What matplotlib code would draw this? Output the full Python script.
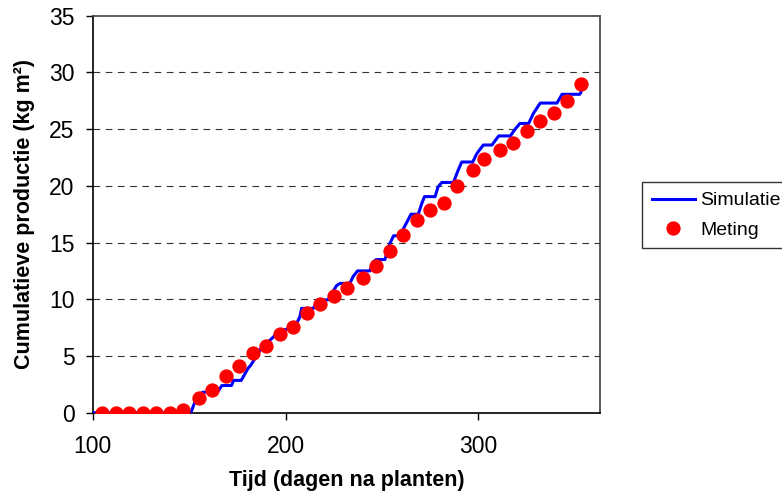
import matplotlib
matplotlib.use('Agg')
import matplotlib.pyplot as plt

BLUE = '#0000FF'
RED = '#FF0000'

# Metingen (dagen na planten, kg m-2)
meting_dag = [105, 112, 119, 126, 133, 140, 147, 155, 162, 169, 176, 183,
              190, 197, 204, 211, 218, 225, 232, 240, 247, 254, 261, 268,
              275, 282, 289, 297, 303, 311, 318, 325, 332, 339, 346, 353]
meting = [0, 0, 0, 0, 0, 0, 0.25, 1.3, 2.0, 3.25, 4.15, 5.3,
          5.9, 6.95, 7.55, 8.75, 9.6, 10.25, 11.0, 11.9, 12.9, 14.3, 15.7, 16.95,
          17.85, 18.45, 19.95, 21.4, 22.4, 23.15, 23.8, 24.85, 25.7, 26.4, 27.45, 29.0]

# Simulatie (trapvormig verloop)
sim_dag = [100, 149, 151, 154, 157, 165, 167, 172, 173, 177, 180.5, 182,
           185.7, 188, 192, 195, 199, 204.8, 207.4, 208.3, 214.5, 216.3, 222, 226.4,
           228.2, 233.3, 235, 237.3, 243.7, 245.5, 247, 251.5, 254, 256, 259.3, 261,
           263.5, 265, 268.8, 270.5, 272, 277.5, 279, 281, 287, 289.5, 291.3, 297,
           299, 300.7, 302.5, 307, 308.7, 310.5, 316.5, 319, 321.5, 326, 328.5, 332,
           340.7, 343.3, 352.5, 353.5]
sim = [0, 0, 0.05, 1.4, 1.8, 1.9, 2.4, 2.4, 2.85, 2.85, 3.9, 4.2,
       5.2, 5.9, 6.4, 6.9, 7.3, 7.55, 8.45, 9.2, 9.2, 9.9, 9.95, 11.2,
       11.4, 11.4, 12.0, 12.5, 12.5, 13.3, 13.5, 13.5, 14.9, 15.6, 15.6, 16.2,
       17.0, 17.5, 17.5, 18.4, 19.05, 19.05, 19.9, 20.3, 20.3, 21.4, 22.1, 22.1,
       22.8, 23.2, 23.6, 23.6, 24.0, 24.4, 24.4, 25.0, 25.5, 25.5, 26.4, 27.3,
       27.3, 28.07, 28.07, 28.4]

x_ticks = [100, 200, 300]
y_ticks = [0, 5, 10, 15, 20, 25, 30, 35]

plt.rcParams['font.family'] = ['Liberation Sans', 'DejaVu Sans']

fig = plt.figure(figsize=(7.82, 4.97), dpi=100)
ax = fig.add_axes([0.1185, 0.1696, 0.6488, 0.7988])

ax.plot(sim_dag, sim, color=BLUE, linewidth=2.2, label='Simulatie', zorder=3)
ax.plot(meting_dag, meting, linestyle='none', marker='o', markersize=10.3,
        color=RED, markeredgewidth=0, label='Meting', zorder=4)

ax.set_xlim(100, 363)
ax.set_ylim(0, 35)
ax.set_xticks(x_ticks)
ax.set_yticks(y_ticks)

# gestippelde hulplijnen (niet op 0 en 35)
for y in y_ticks[1:-1]:
    ax.axhline(y, color='#333333', linewidth=0.8, linestyle=(0, (6, 5)), zorder=1)

ax.tick_params(direction='out', length=5, width=1, labelsize=16.5, colors='black')
ax.tick_params(axis='x', pad=11)
ax.tick_params(axis='y', pad=8)

for side in ['left', 'bottom']:
    ax.spines[side].set_color('black')
    ax.spines[side].set_linewidth(1.2)
for side in ['top', 'right']:
    ax.spines[side].set_color('#404040')
    ax.spines[side].set_linewidth(1.2)

ax.set_xlabel('Tijd (dagen na planten)', fontsize=15.5, fontweight='bold', labelpad=9)
ax.set_ylabel('Cumulatieve productie (kg m²)', fontsize=15.5, fontweight='bold', labelpad=10)

leg = fig.legend(loc='upper left', bbox_to_anchor=(642 / 782, 1 - 182 / 497),
                 fontsize=14, frameon=True, fancybox=False, borderaxespad=0,
                 handlelength=2.2, handletextpad=0.3, borderpad=0.5, labelspacing=0.6)
leg.get_frame().set_edgecolor('black')
leg.get_frame().set_linewidth(1.0)

fig.savefig('out.png', dpi=100)
